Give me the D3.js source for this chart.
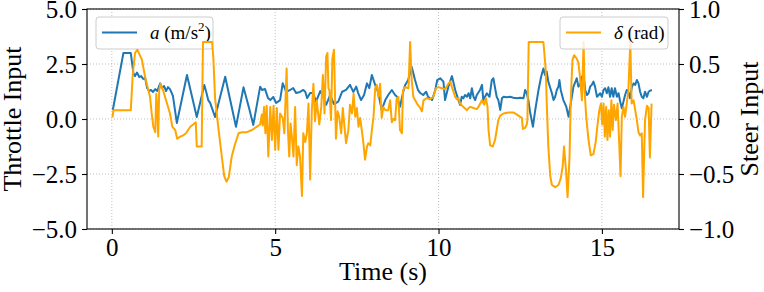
<!DOCTYPE html>
<html><head><meta charset="utf-8">
<script src="https://cdn.jsdelivr.net/npm/d3@7"></script>
<style>
html,body{margin:0;padding:0;background:#fff;}
svg{display:block;font-family:"Liberation Serif","Times New Roman",serif;}
</style></head>
<body><svg id="chart" width="764" height="292"></svg>
<script>
// ---- data ----
const timeA = [0.03,0.355,0.58,0.66,0.71,0.77,0.84,0.90,0.96,1.02,1.08,1.14,1.20,1.26,1.33,1.39,1.48,1.54,1.60,1.66,1.72,1.78,1.87,1.99,2.30,2.60,2.83,2.89,2.95,3.01,3.16,3.47,3.80,4.03,4.20,4.33,4.54,4.60,4.69,4.78,4.85,4.94,5.03,5.15,5.23,5.34,5.46,5.55,5.64,5.76,5.86,5.92,5.98,6.07,6.16,6.25,6.38,6.47,6.56,6.68,6.80,6.93,7.05,7.17,7.29,7.39,7.48,7.54,7.63,7.72,7.81,7.88,7.96,8.06,8.15,8.26,8.37,8.46,8.57,8.67,8.73,8.82,8.92,8.98,9.07,9.18,9.28,9.37,9.44,9.53,9.62,9.68,9.80,9.90,9.96,10.05,10.15,10.20,10.30,10.41,10.51,10.61,10.66,10.71,10.76,10.81,10.87,10.92,10.97,11.02,11.07,11.12,11.17,11.27,11.33,11.37,11.48,11.56,11.63,11.68,11.73,11.78,11.83,11.89,11.94,11.99,12.09,12.19,12.29,12.40,12.50,12.60,12.65,12.70,12.75,12.80,12.89,12.96,13.06,13.14,13.21,13.26,13.31,13.36,13.47,13.52,13.57,13.62,13.67,13.70,13.74,13.82,13.91,13.98,14.08,14.13,14.23,14.28,14.33,14.39,14.44,14.49,14.54,14.59,14.64,14.69,14.74,14.79,14.85,14.95,15.00,15.05,15.10,15.15,15.20,15.25,15.30,15.35,15.40,15.46,15.51,15.56,15.61,15.66,15.71,15.76,15.81,15.86,15.92,15.97,16.02,16.07,16.12,16.17,16.22,16.27,16.32,16.38,16.43,16.48,16.53];
const accel = [0.41,3.0,3.0,2.08,1.95,2.11,1.91,1.95,1.82,1.86,1.41,1.27,1.32,1.23,1.36,1.27,1.62,1.41,1.5,1.27,1.45,1.36,1.05,-0.18,2.0,0.09,1.55,1.23,0.86,0.73,0.09,1.92,-0.35,1.44,0.5,-0.27,1.47,1.32,1.36,0.95,0.86,1.0,0.73,0.86,1.62,1.23,1.32,1.41,1.18,1.23,1.32,1.24,0.95,1.18,1.18,0.79,1.27,1.01,0.64,1.09,0.68,0.79,1.24,1.32,1.55,1.23,1.47,1.18,0.86,1.09,1.62,1.41,2.0,1.55,1.23,0.41,0.86,1.09,1.32,1.09,1.01,0.56,1.24,1.55,1.77,2.36,1.77,1.32,1.18,1.09,1.24,1.01,0.86,1.32,1.77,1.85,1.7,0.86,1.47,1.95,1.32,0.86,0.64,1.01,0.94,1.09,1.01,1.17,0.94,1.40,1.01,0.86,1.09,1.32,1.55,0.86,1.17,1.01,1.77,1.85,1.41,1.01,0.86,0.41,0.94,1.01,0.99,1.01,0.97,0.94,0.97,0.94,1.32,1.17,0.86,0.33,-0.35,0.41,1.32,1.92,2.3,2.0,2.15,1.7,1.17,0.86,1.01,1.32,1.47,1.77,1.32,0.86,0.56,0.1,1.01,1.47,1.85,1.47,1.55,1.92,2.0,1.32,1.09,1.17,1.47,1.55,1.7,1.47,1.01,1.17,1.01,1.32,1.40,1.17,1.44,1.01,1.40,1.01,1.40,1.01,1.17,0.79,0.49,0.79,1.09,1.32,1.24,0.94,1.47,1.62,1.55,1.77,1.62,1.24,1.01,0.94,1.24,1.01,1.24,1.29,1.32];
const timeD = [0.02,0.05,0.58,0.64,0.71,0.78,0.92,1.02,1.17,1.22,1.27,1.33,1.36,1.39,1.42,1.45,1.49,1.57,1.66,1.78,1.85,1.94,2.0,2.09,2.18,2.27,2.40,2.49,2.57,2.60,2.75,2.79,3.07,3.11,3.16,3.26,3.37,3.44,3.51,3.58,3.67,3.77,3.88,3.98,4.13,4.29,4.44,4.54,4.59,4.62,4.66,4.70,4.74,4.79,4.85,4.90,4.95,5.0,5.05,5.10,5.15,5.23,5.28,5.35,5.39,5.43,5.47,5.51,5.56,5.61,5.66,5.71,5.76,5.82,5.86,5.92,5.97,6.02,6.07,6.12,6.17,6.22,6.27,6.35,6.41,6.46,6.51,6.56,6.60,6.63,6.66,6.71,6.75,6.80,6.86,6.91,6.96,7.02,7.07,7.12,7.17,7.24,7.29,7.35,7.40,7.45,7.50,7.55,7.60,7.65,7.70,7.75,7.81,7.85,7.91,7.96,8.01,8.06,8.11,8.16,8.21,8.26,8.31,8.37,8.46,8.52,8.57,8.62,8.67,8.72,8.77,8.82,8.88,8.91,8.98,9.08,9.13,9.18,9.23,9.34,9.44,9.49,9.54,9.64,9.74,9.84,9.92,10.0,10.10,10.20,10.30,10.36,10.41,10.51,10.56,10.61,10.66,10.76,10.87,10.92,10.97,11.07,11.17,11.22,11.33,11.40,11.45,11.50,11.53,11.58,11.66,11.73,11.78,11.83,11.89,11.99,12.14,12.29,12.40,12.50,12.55,12.58,12.65,12.70,12.72,12.76,13.21,13.28,13.32,13.36,13.42,13.47,13.57,13.67,13.74,13.80,13.84,13.90,13.95,14.01,14.05,14.10,14.15,14.23,14.28,14.33,14.39,14.44,14.47,14.52,14.59,14.66,14.74,14.81,14.86,14.92,14.97,15.01,15.05,15.09,15.13,15.17,15.21,15.25,15.29,15.33,15.37,15.43,15.48,15.53,15.57,15.61,15.66,15.71,15.76,15.81,15.87,15.91,15.97,16.02,16.07,16.12,16.17,16.22,16.26,16.32,16.38,16.43,16.47,16.52];
const steer = [0.015,0.08,0.08,0.4,0.60,0.63,0.54,0.38,0.2,0.05,-0.07,-0.12,0.23,0.11,-0.16,0.26,0.32,0.26,0.17,0.05,-0.07,-0.1,-0.18,-0.16,-0.15,-0.13,-0.07,-0.05,-0.03,-0.25,-0.25,0.70,0.70,0.54,0.19,-0.08,-0.35,-0.52,-0.57,-0.53,-0.34,-0.23,-0.13,-0.12,-0.12,-0.10,-0.07,-0.05,0.04,-0.06,0.11,-0.13,0.12,-0.34,0.11,-0.19,0.12,-0.28,0.10,-0.28,0.05,0.01,-0.13,0.46,-0.1,-0.34,-0.04,-0.16,-0.34,0.11,-0.42,-0.25,-0.34,-0.70,-0.13,-0.21,-0.13,0.14,-0.55,0.07,0.32,-0.02,0.17,-0.05,0.11,0.4,0.05,0.57,0.60,0.28,0.26,-0.01,0.55,0.63,-0.18,0.07,0.02,-0.13,0.1,-0.07,-0.22,-0.1,0.13,0.05,0.23,0.02,0.1,-0.07,0.01,-0.1,-0.22,-0.37,-0.25,-0.22,-0.24,-0.1,0.02,0.28,0.31,0.2,0.32,0.01,0.11,0.08,0.08,0.17,-0.03,0.0,-0.01,0.19,0.2,-0.1,-0.13,0.26,0.29,0.28,0.70,0.35,0.2,0.14,0.1,0.07,0.17,0.19,0.18,0.2,0.28,0.29,0.28,0.27,0.32,0.34,0.29,0.2,0.18,0.19,0.14,0.11,0.08,0.1,0.11,0.1,0.09,0.11,0.17,0.13,0.19,0.11,-0.1,-0.24,-0.25,-0.19,-0.1,-0.01,0.03,0.05,0.06,0.06,0.04,0.02,0.01,-0.09,-0.08,-0.05,-0.01,0.70,0.70,0.45,0.08,-0.25,-0.52,-0.6,-0.62,-0.6,-0.54,-0.43,-0.25,-0.46,-0.71,-0.34,0.2,0.54,0.58,0.55,0.51,0.38,0.17,0.70,0.26,0.02,-0.19,-0.33,-0.32,-0.21,-0.07,0.08,0.14,-0.05,0.14,-0.16,0.11,-0.19,0.08,-0.16,0.17,-0.1,0.13,-0.01,0.14,-0.22,-0.52,0.02,0.11,0.02,0.14,0.26,0.70,0.14,0.17,0.08,-0.01,-0.12,-0.15,-0.13,-0.71,-0.01,0.12,0.1,-0.35,0.14];
const xTicks = [0, 5, 10, 15];
const leftTicks = [-5, -2.5, 0, 2.5, 5];
const rightTicks = [-1, -0.5, 0, 0.5, 1];
const xLabel = "Time (s)";
const leftLabel = "Throttle Input";
const rightLabel = "Steer Input";

// ---- layout ----
const svg = d3.select("#chart");
const L = 87, R = 679, T = 9, B = 229;
const x = d3.scaleLinear().domain([-0.76, 17.36]).range([L, R]);
const yL = d3.scaleLinear().domain([-5, 5]).range([B, T]);
const yR = d3.scaleLinear().domain([-1, 1]).range([B, T]);
const fmt = d3.format(".1f");
const tickFont = 25, labelFont = 26;

// grid
const grid = svg.append("g").attr("stroke", "#b0b0b0").attr("stroke-width", 0.8).attr("stroke-dasharray", "1,2");
xTicks.forEach(t => grid.append("line").attr("x1", x(t)).attr("x2", x(t)).attr("y1", T).attr("y2", B));
leftTicks.forEach(t => grid.append("line").attr("x1", L).attr("x2", R).attr("y1", yL(t)).attr("y2", yL(t)));

// blue line
svg.append("path").datum(timeA.map((t, i) => [t, accel[i]]))
  .attr("fill", "none").attr("stroke", "#1f77b4").attr("stroke-width", 2).attr("stroke-linejoin", "round")
  .attr("d", d3.line().x(d => x(d[0])).y(d => yL(d[1])));

// legend helper
function legend(x0, y0, w, h, color, build) {
  const g = svg.append("g");
  g.append("rect").attr("x", x0).attr("y", y0).attr("width", w).attr("height", h).attr("rx", 3)
    .attr("fill", "#fff").attr("fill-opacity", 0.8).attr("stroke", "#cccccc").attr("stroke-width", 1);
  g.append("line").attr("x1", x0 + 6).attr("x2", x0 + 41).attr("y1", y0 + 15.5).attr("y2", y0 + 15.5)
    .attr("stroke", color).attr("stroke-width", 2);
  const tx = g.append("text").attr("x", x0 + 54).attr("y", y0 + 22).attr("font-size", 19).attr("fill", "#000");
  build(tx);
}
legend(96, 17, 117, 32, "#1f77b4", tx => {
  tx.append("tspan").attr("font-style", "italic").text("a");
  tx.append("tspan").text(" (m/s");
  tx.append("tspan").attr("font-size", 13).attr("dy", -8).text("2");
  tx.append("tspan").attr("dy", 8).text(")");
});

// orange line
svg.append("path").datum(timeD.map((t, i) => [t, steer[i]]))
  .attr("fill", "none").attr("stroke", "#ffa500").attr("stroke-width", 2).attr("stroke-linejoin", "round")
  .attr("d", d3.line().x(d => x(d[0])).y(d => yR(d[1])));

legend(560, 17, 108, 32, "#ffa500", tx => {
  tx.append("tspan").attr("font-style", "italic").text("δ");
  tx.append("tspan").text(" (rad)");
});

// axes
const ax = svg.append("g");
ax.append("g").attr("transform", `translate(0,${B})`)
  .call(d3.axisBottom(x).tickValues(xTicks).tickFormat(d3.format("d")).tickSizeOuter(0).tickSize(5).tickPadding(4));
ax.append("g").attr("transform", `translate(${L},0)`)
  .call(d3.axisLeft(yL).tickValues(leftTicks).tickFormat(fmt).tickSizeOuter(0).tickSize(5).tickPadding(5));
ax.append("g").attr("transform", `translate(${R},0)`)
  .call(d3.axisRight(yR).tickValues(rightTicks).tickFormat(fmt).tickSizeOuter(0).tickSize(5).tickPadding(5));
ax.selectAll(".domain").remove();
ax.selectAll("text").attr("font-size", tickFont).attr("fill", "#000").attr("font-family", "Liberation Serif, serif");
ax.selectAll(".tick line").attr("stroke", "#000").attr("stroke-width", 1.1);

// frame
svg.append("rect").attr("x", L).attr("y", T).attr("width", R - L).attr("height", B - T)
  .attr("fill", "none").attr("stroke", "#000").attr("stroke-width", 1.1);

// labels
svg.append("text").attr("x", (L + R) / 2).attr("y", 280).attr("text-anchor", "middle")
  .attr("font-size", labelFont).text(xLabel);
svg.append("text").attr("transform", `translate(21,${(T + B) / 2}) rotate(-90)`).attr("text-anchor", "middle")
  .attr("font-size", labelFont).text(leftLabel);
svg.append("text").attr("transform", `translate(758,${(T + B) / 2}) rotate(-90)`).attr("text-anchor", "middle")
  .attr("font-size", labelFont).text(rightLabel);
</script></body></html>
